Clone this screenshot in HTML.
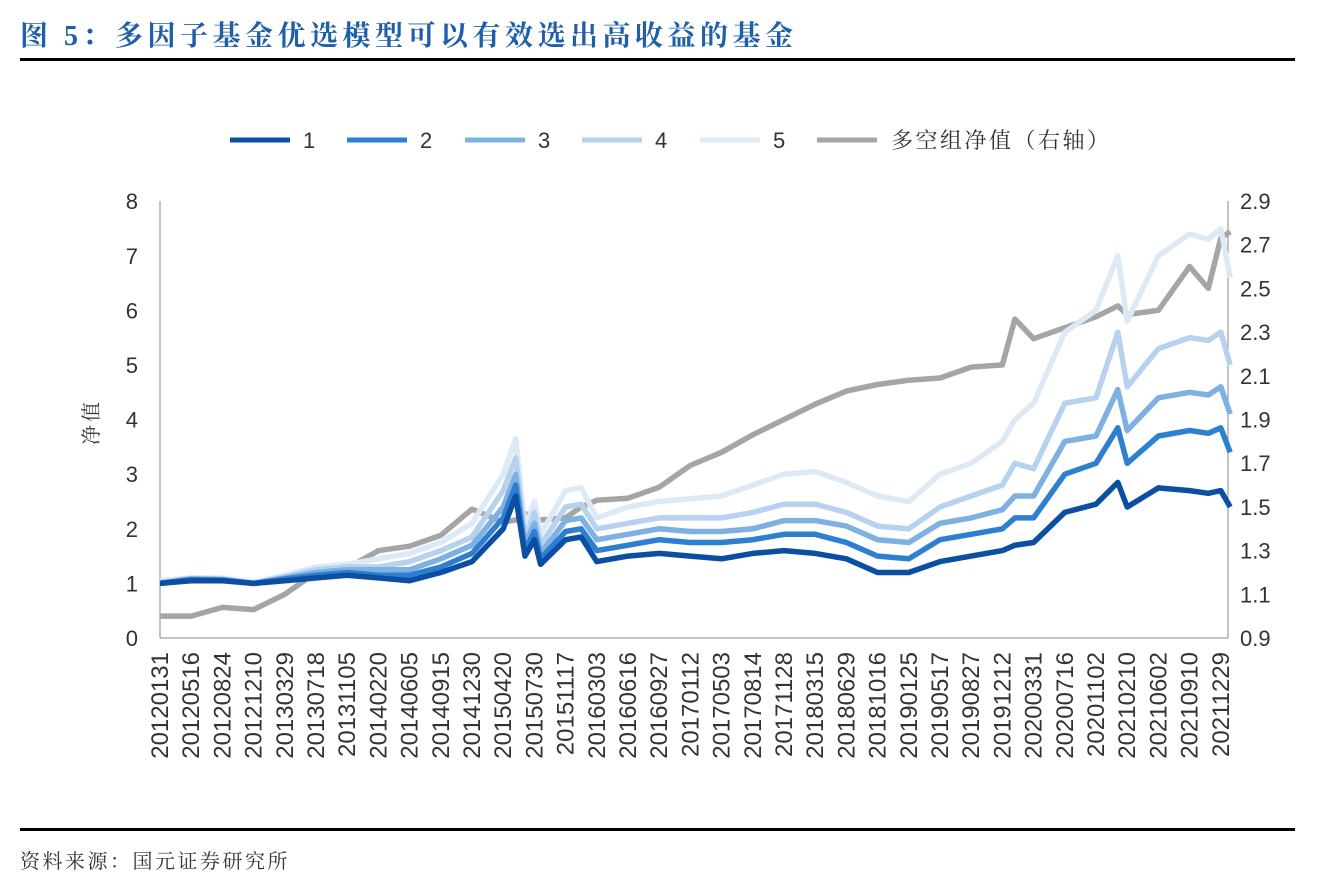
<!DOCTYPE html>
<html><head><meta charset="utf-8"><style>
body{margin:0;background:#fff;width:1321px;height:888px;overflow:hidden;font-family:"Liberation Sans","Noto Sans CJK SC",sans-serif}
</style></head><body>
<div style="position:absolute;left:20px;top:14px;font-size:28px;font-weight:bold;color:#1f5fa8;font-family:'Liberation Serif','Noto Serif CJK SC',serif;letter-spacing:4.5px;white-space:nowrap">图 5：多因子基金优选模型可以有效选出高收益的基金</div>
<div style="position:absolute;left:20px;top:58px;width:1275px;height:3px;background:#000"></div>
<div style="position:absolute;left:20px;top:828px;width:1275px;height:3px;background:#000"></div>
<div style="position:absolute;left:20px;top:845px;font-size:20px;color:#333;font-family:'Liberation Serif','Noto Serif CJK SC',serif;letter-spacing:2.5px;white-space:nowrap">资料来源：国元证券研究所</div>
<svg id="c" width="1321" height="888" style="position:absolute;left:0;top:0"></svg>
<script>
const dates=["20120131","20120516","20120824","20121210","20130329","20130718","20131105","20140220","20140605","20140915","20141230","20150420","20150730","20151117","20160303","20160616","20160927","20170112","20170503","20170814","20171128","20180315","20180629","20181016","20190125","20190517","20190827","20191212","20200331","20200716","20201102","20210210","20210602","20210910","20211229"];
const xs=[0,1,2,3,4,5,6,7,8,9,10,11,11.4,11.7,12,12.2,13,13.5,14,15,16,17,18,19,20,21,22,23,24,25,26,27,27.4,28,29,30,30.7,31,32,33,33.6,34,34.3];
const s1=[1.0,1.05,1.05,1.0,1.05,1.1,1.15,1.1,1.05,1.2,1.4,2.0,2.6,1.5,1.8,1.35,1.8,1.85,1.4,1.5,1.55,1.5,1.45,1.55,1.6,1.55,1.45,1.2,1.2,1.4,1.5,1.6,1.7,1.75,2.3,2.45,2.85,2.4,2.75,2.7,2.65,2.7,2.4];
const s2=[1.0,1.07,1.06,1.0,1.08,1.15,1.2,1.15,1.15,1.3,1.55,2.2,2.8,1.6,1.95,1.45,1.95,2.0,1.6,1.7,1.8,1.75,1.75,1.8,1.9,1.9,1.75,1.5,1.45,1.8,1.9,2.0,2.2,2.2,3.0,3.2,3.85,3.2,3.7,3.8,3.75,3.85,3.4];
const s3=[1.0,1.08,1.07,1.0,1.1,1.2,1.25,1.25,1.25,1.45,1.7,2.4,3.0,1.7,2.1,1.55,2.15,2.2,1.8,1.9,2.0,1.95,1.95,2.0,2.15,2.15,2.05,1.8,1.75,2.1,2.2,2.35,2.6,2.6,3.6,3.7,4.55,3.8,4.4,4.5,4.45,4.6,4.1];
const s4=[1.02,1.09,1.08,1.0,1.12,1.25,1.3,1.3,1.4,1.6,1.85,2.7,3.3,1.8,2.3,1.7,2.4,2.45,2.0,2.1,2.2,2.2,2.2,2.3,2.45,2.45,2.3,2.05,2.0,2.4,2.6,2.8,3.2,3.1,4.3,4.4,5.6,4.6,5.3,5.5,5.45,5.6,5.0];
const s5=[1.05,1.1,1.1,1.02,1.15,1.3,1.35,1.45,1.55,1.75,2.1,3.0,3.65,2.0,2.5,1.9,2.7,2.75,2.2,2.4,2.5,2.55,2.6,2.8,3.0,3.05,2.85,2.6,2.5,3.0,3.2,3.6,4.0,4.3,5.6,6.0,7.0,5.8,7.0,7.4,7.3,7.5,6.6];
const ls=[1.0,1.0,1.04,1.03,1.1,1.2,1.22,1.3,1.32,1.37,1.49,1.43,1.44,1.47,1.45,1.44,1.45,1.5,1.53,1.54,1.59,1.69,1.75,1.83,1.9,1.97,2.03,2.06,2.08,2.09,2.14,2.15,2.36,2.27,2.32,2.37,2.42,2.38,2.4,2.6,2.5,2.73,2.76];
const leftTicks=[0,1,2,3,4,5,6,7,8];
const rightTicks=[0.9,1.1,1.3,1.5,1.7,1.9,2.1,2.3,2.5,2.7,2.9];
const names=["1","2","3","4","5"];
const colors=["#0b4ea2","#2e7fd0","#7eb0e2","#b6d2ef","#dde9f7"];
const X=i=>160+i*31.2, YL=v=>638-v*54.6, YR=v=>638-(v-0.9)*218.5;
const svg=document.getElementById('c');const NS="http://www.w3.org/2000/svg";
function mk(t,a,txt){const e=document.createElementNS(NS,t);for(const k in a)e.setAttribute(k,a[k]);if(txt!==undefined)e.textContent=txt;svg.appendChild(e);return e;}
const serif="'Liberation Serif','Noto Serif CJK SC',serif";
let e;
e=mk('line',{x1:160,y1:201,x2:160,y2:638,stroke:'#888'});
e=mk('line',{x1:1228,y1:201,x2:1228,y2:638,stroke:'#888'});
e=mk('line',{x1:160,y1:638,x2:1228,y2:638,stroke:'#888'});
leftTicks.forEach(v=>{e=mk('text',{x:138,y:YL(v)+8,'font-size':22,'text-anchor':'end',fill:'#333'},v);});
rightTicks.forEach(v=>{e=mk('text',{x:1240,y:YR(v)+8,'font-size':22,fill:'#333'},v.toFixed(1));});
dates.forEach((d,i)=>{const x=X(i)+8;e=mk('text',{x:0,y:0,'font-size':24,'text-anchor':'end',fill:'#333',transform:`translate(${x},652) rotate(-90)`},d);});
e=mk('text',{x:0,y:0,'font-size':20,fill:'#333','text-anchor':'middle','font-family':serif,'letter-spacing':3,transform:'translate(98,422) rotate(-90)'},'净值');
const path=(arr,f)=>arr.map((v,i)=>(i?'L':'M')+X(xs[i]).toFixed(1)+' '+f(v).toFixed(1)).join(' ');
e=mk('path',{d:path(ls,YR),fill:'none',stroke:'#a5a5a5','stroke-width':5.5,'stroke-linejoin':'round'});
[s5,s4,s3,s2,s1].forEach((s,k)=>{const j=4-k;e=mk('path',{d:path(s,YL),fill:'none',stroke:colors[j],'stroke-width':5.5,'stroke-linejoin':'round'});});
const lx=[230,347,465,582,700];
names.forEach((n,i)=>{e=mk('line',{x1:lx[i],y1:140,x2:lx[i]+60,y2:140,stroke:colors[i],'stroke-width':5});
e=mk('text',{x:lx[i]+73,y:148,'font-size':22,fill:'#333'},n);});
e=mk('line',{x1:817,y1:140,x2:877,y2:140,stroke:'#a5a5a5','stroke-width':5});
e=mk('text',{x:891,y:148,'font-size':22,fill:'#333','font-family':serif,'letter-spacing':2.5},'多空组净值（右轴）');
</script>
</body></html>
